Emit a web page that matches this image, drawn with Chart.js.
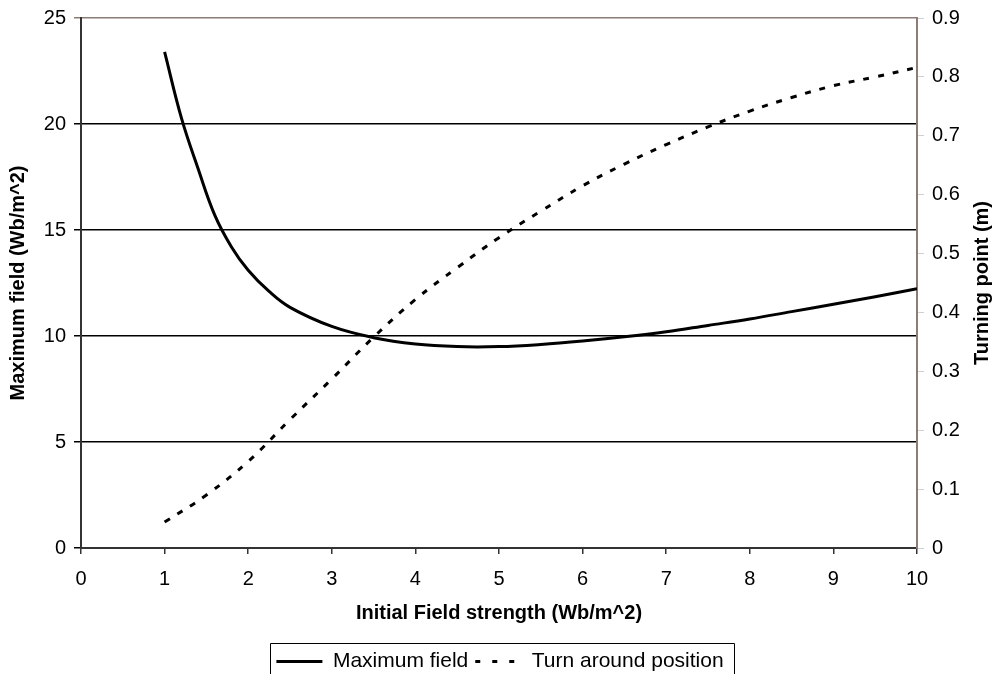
<!DOCTYPE html>
<html>
<head>
<meta charset="utf-8">
<script src="https://cdn.jsdelivr.net/npm/chart.js@4/dist/chart.umd.min.js"></script>
<style>
  html, body { margin: 0; padding: 0; background: #fff; }
  #wrap { width: 1000px; height: 674px; overflow: hidden; }
</style>
</head>
<body>
<div id="wrap"><canvas id="c1" width="1000" height="674"></canvas></div>
<script>
// values
const fieldX = [1, 1.2, 1.4, 1.6, 1.8, 2, 2.25, 2.5, 3, 3.5, 4, 4.5, 5, 5.5, 6, 6.5, 7, 7.5, 8, 8.5, 9, 9.5, 10];
const maxField = [23.4, 20.3, 17.9, 15.7, 14.2, 13.1, 12.1, 11.35, 10.45, 9.92, 9.62, 9.5, 9.5, 9.6, 9.76, 9.96, 10.2, 10.5, 10.8, 11.15, 11.5, 11.85, 12.23];

const turnX = [1, 1.5, 2, 2.5, 3, 3.5, 4, 4.5, 5, 5.5, 6, 6.5, 7, 7.5, 8, 8.5, 9, 9.5, 10];
const turnPoint = [0.044, 0.09, 0.147, 0.218, 0.287, 0.358, 0.422, 0.476, 0.527, 0.572, 0.615, 0.652, 0.685, 0.715, 0.742, 0.765, 0.785, 0.80, 0.816];

const FONT = "'Liberation Sans', Arial, sans-serif";
const edge = '#8b7d75';
const rightTitle = 'Turning point (m)';
const SHIFT = 8; // legend sits partly below the bottom edge, as in the original

function pts(xs, ys) {
    return xs.map((x, i) => ({x: x, y: ys[i]}));
}

// box round the legend + right axis title that reads bottom to top
const extras = {
    id: 'extras',
    afterDraw(chart) {
        const c = chart.ctx;
        const lg = chart.legend;
        if (lg && lg.legendHitBoxes && lg.legendHitBoxes.length) {
            const hb = lg.legendHitBoxes;
            const first = hb[0], last = hb[hb.length - 1];
            const l = Math.round(first.left) - 6 + 0.5;
            const r = Math.round(last.left + last.width) + 10 + 0.5;
            const t = Math.round(first.top) - 8 + 0.5;
            c.save();
            c.strokeStyle = '#000';
            c.lineWidth = 1;
            c.beginPath();
            c.moveTo(l, chart.height + 2);
            c.lineTo(l, t);
            c.lineTo(r, t);
            c.lineTo(r, chart.height + 2);
            c.stroke();
            c.restore();
        }
        const a = chart.chartArea;
        c.save();
        c.translate(982, (a.top + a.bottom) / 2);
        c.rotate(-Math.PI / 2);
        c.font = 'bold 20px ' + FONT;
        c.fillStyle = '#000';
        c.textAlign = 'center';
        c.textBaseline = 'middle';
        c.fillText(rightTitle, 0, 0);
        c.restore();
    }
};

const ctx = document.getElementById('c1');
const chart1 = new Chart(ctx, {
    type: 'line',
    data: {
        datasets: [{
            label: 'Maximum field',
            data: pts(fieldX, maxField),
            yAxisID: 'y',
            borderColor: '#000',
            backgroundColor: '#000',
            borderWidth: 3,
            pointRadius: 0,
            tension: 0.4,
            fill: false
        }, {
            label: 'Turn around position',
            data: pts(turnX, turnPoint),
            yAxisID: 'y2',
            borderColor: '#000',
            backgroundColor: '#000',
            borderWidth: 3,
            borderDash: [6, 9],
            pointRadius: 0,
            tension: 0.4,
            fill: false
        }]
    },
    options: {
        responsive: false,
        animation: false,
        devicePixelRatio: 1,
        layout: { padding: { top: 14, left: 0, right: 0, bottom: -SHIFT } },
        plugins: {
            tooltip: { enabled: false },
            legend: {
                position: 'bottom',
                labels: {
                    usePointStyle: true,
                    pointStyle: 'line',
                    pointStyleWidth: 46,
                    color: '#000',
                    font: { family: FONT, size: 21, lineHeight: 1 },
                    padding: 7,
                    generateLabels(chart) {
                        const items = Chart.defaults.plugins.legend.labels.generateLabels(chart);
                        items.forEach((it, i) => {
                            it.lineDash = i === 1 ? [5, 12] : [];
                            it.lineWidth = 3;
                        });
                        return items;
                    }
                }
            }
        },
        scales: {
            x: {
                type: 'linear',
                min: 0, max: 10,
                ticks: { stepSize: 1, color: '#000', font: { family: FONT, size: 20 }, padding: 13 },
                grid: { drawOnChartArea: false, drawTicks: true, tickLength: 6, color: '#333', lineWidth: 1.5 },
                border: { color: '#333', width: 2 },
                title: {
                    display: true,
                    text: 'Initial Field strength (Wb/m^2)',
                    color: '#000',
                    font: { family: FONT, size: 20, weight: 'bold' },
                    padding: { top: 4, bottom: 19 }
                },
                afterFit(scale) {
                    const lh = scale.chart.legend ? scale.chart.legend.height : 0;
                    scale.height = 674 + SHIFT - 548 - lh;
                }
            },
            y: {
                position: 'left',
                min: 0, max: 25,
                ticks: { stepSize: 5, color: '#000', font: { family: FONT, size: 20, lineHeight: 1 }, padding: 8 },
                grid: {
                    color: c => (c.tick && c.tick.value === 25 ? edge : '#000'),
                    lineWidth: 1.5,
                    tickLength: 7
                },
                border: { color: '#333', width: 2 },
                title: {
                    display: true,
                    text: 'Maximum field (Wb/m^2)',
                    color: '#000',
                    font: { family: FONT, size: 20, weight: 'bold' },
                    padding: { top: 6, bottom: 0 }
                },
                afterFit(scale) { scale.width = 81; }
            },
            y2: {
                position: 'right',
                min: 0, max: 0.9,
                ticks: {
                    stepSize: 0.1,
                    color: '#000',
                    font: { family: FONT, size: 20, lineHeight: 1 },
                    padding: 8,
                    callback: v => (v === 0 ? '0' : v.toFixed(1))
                },
                grid: { drawOnChartArea: false, color: '#d0d0d0', lineWidth: 1, tickLength: 7 },
                border: { color: edge, width: 2 },
                afterFit(scale) { scale.width = 83; }
            }
        }
    },
    plugins: [extras]
});
</script>
</body>
</html>
